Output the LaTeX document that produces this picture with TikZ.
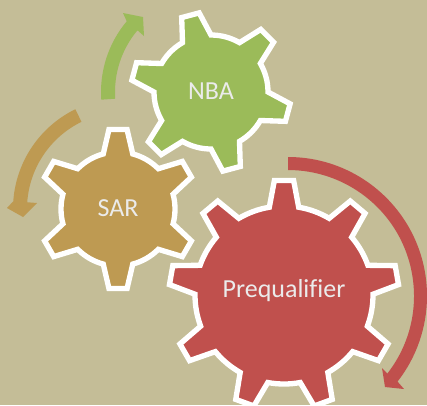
\documentclass[tikz,border=0pt]{standalone}
\usepackage{fontspec}
\setmainfont{Carlito}[Ligatures={NoCommon}]
\definecolor{bgc}{HTML}{C4BD97}
\definecolor{grn}{HTML}{9BBB59}
\definecolor{brn}{HTML}{BE9A52}
\definecolor{redd}{HTML}{C0504D}
\tikzset{
  gearshape/.style={draw=white,line width=4,line join=miter,miter limit=4},
  geartext/.style={text=white!92!black,font=\fontsize{19.5pt}{21pt}\selectfont,inner sep=0pt},
}
% cx cy rRoot rTip n rot halfBase halfTip colour
\newcommand{\mygear}[9]{%
  \begin{scope}[shift={(#1,-#2)}]
  \pgfmathsetmacro{\stp}{360/#5}
  \pgfmathtruncatemacro{\lst}{#5-1}
  \filldraw[gearshape,fill=#9] (#6-#7:#3)
    \foreach \i [evaluate=\i as \a using #6+\i*\stp] in {0,...,\lst} {
      -- (\a-#7:#3) -- (\a-#8:#4) -- (\a+#8:#4) -- (\a+#7:#3)
      arc[start angle=\a+#7,end angle=\a+\stp-#7,radius=#3]
    } -- cycle;
  \end{scope}}
\begin{document}
\begin{tikzpicture}[x=.75pt,y=.75pt]
\clip (0,0) rectangle (427,-405);
\fill[bgc] (0,0) rectangle (427,-405);
% arrows
\fill[grn] ([shift={(211,-92)}]184:110) arc[start angle=184,end angle=140,radius=110]
  -- (123,-13) -- (143,-17) -- (144,-36) -- ([shift={(211,-92)}]140:96)
  arc[start angle=140,end angle=184,radius=96] -- cycle;
\fill[brn] ([shift={(124,-209)}]116:111) arc[start angle=116,end angle=176,radius=111]
  -- (7,-208) -- (23,-217) -- (37,-203) -- ([shift={(124,-209)}]176:97)
  arc[start angle=176,end angle=116,radius=97] -- cycle;
\fill[redd] ([shift={(288,-296)}]90:139) arc[start angle=90,end angle=-38,radius=139]
  -- (404,-389) -- (385,-387) -- (382,-368) -- ([shift={(288,-296)}]-38:126)
  arc[start angle=-38,end angle=90,radius=126] -- cycle;
% gears
\mygear{211}{92}{57}{80}{6}{45}{15}{6.5}{grn}
\mygear{118}{209}{57}{80}{6}{30}{15}{6.5}{brn}
\mygear{284}{295}{89}{115}{9}{90}{9.5}{4.8}{redd}
\node[geartext] (nba) at (211,-91) {NBA};
\node[geartext] (sar) at (118,-208) {SAR};
\node[geartext] (pre) at (284,-291) {Prequalifier};
\end{tikzpicture}
\end{document}
